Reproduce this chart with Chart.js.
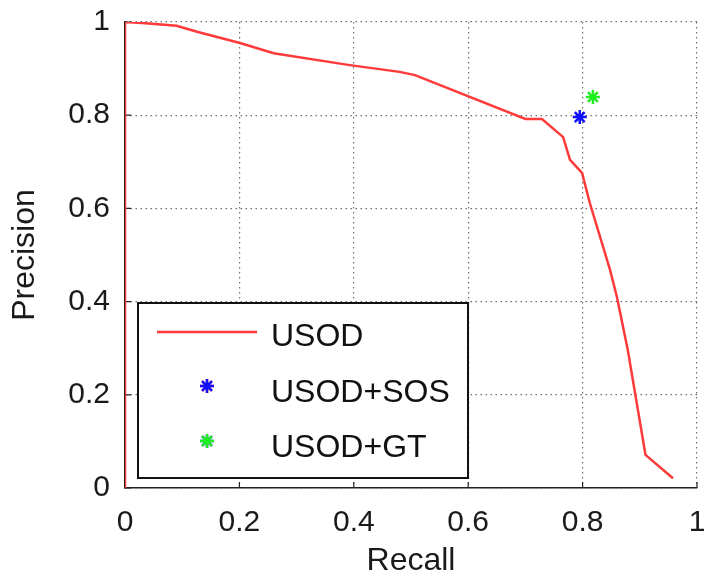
<!DOCTYPE html>
<html>
<head>
<meta charset="utf-8">
<script src="https://cdn.jsdelivr.net/npm/chart.js@4/dist/chart.umd.min.js"></script>
<style>
  html, body { margin: 0; padding: 0; background: #fff; }
  #wrap { width: 708px; height: 577px; }
</style>
</head>
<body>
<div id="wrap"><canvas id="prChart"></canvas></div>
<script>
// PR curve
const recall = [0, 0, 0.03, 0.09, 0.126, 0.201, 0.26, 0.39, 0.48, 0.507, 0.70, 0.729, 0.766, 0.778, 0.799, 0.813, 0.848, 0.86, 0.879, 0.91, 0.958];
const precision = [0, 1, 0.998, 0.992, 0.979, 0.955, 0.933, 0.908, 0.893, 0.886, 0.792, 0.792, 0.753, 0.704, 0.676, 0.61, 0.468, 0.41, 0.296, 0.071, 0.021];
const sosRecall = [0.795];
const sosPrecision = [0.796];
const gtRecall = [0.818];
const gtPrecision = [0.839];
const seriesNames = ["USOD", "USOD+SOS", "USOD+GT"];
const xTicks = [0, 0.2, 0.4, 0.6, 0.8, 1];
const yTicks = [0, 0.2, 0.4, 0.6, 0.8, 1];

const FONT = "'Liberation Sans', Arial, sans-serif";

function toPoints(xs, ys) {
  return xs.map((x, i) => ({ x, y: ys[i] }));
}

// MATLAB style inward tick marks
const innerTicks = {
  id: "innerTicks",
  beforeDatasetsDraw(chart) {
    const { ctx, chartArea, scales } = chart;
    ctx.save();
    ctx.strokeStyle = "#222";
    ctx.lineWidth = 1.2;
    ctx.beginPath();
    xTicks.forEach((v) => {
      const px = scales.x.getPixelForValue(v);
      ctx.moveTo(px, chartArea.bottom);
      ctx.lineTo(px, chartArea.bottom - 6);
    });
    yTicks.forEach((v) => {
      const py = scales.y.getPixelForValue(v);
      ctx.moveTo(chartArea.left, py);
      ctx.lineTo(chartArea.left + 6, py);
    });
    ctx.stroke();
    ctx.restore();
  }
};

// boxed legend inside the lower left corner
const boxLegend = {
  id: "boxLegend",
  afterDraw(chart) {
    const { ctx, chartArea } = chart;
    const left = chartArea.left + 13;
    const bottom = chartArea.bottom - 10;
    const w = 330, h = 175;
    const top = bottom - h;
    ctx.save();
    ctx.fillStyle = "#fff";
    ctx.fillRect(left, top, w, h);
    ctx.strokeStyle = "#111";
    ctx.lineWidth = 2;
    ctx.strokeRect(left, top, w, h);

    const rows = [top + 32, top + 88, top + 143];
    ctx.font = "32px " + FONT;
    ctx.fillStyle = "#111";
    ctx.textBaseline = "middle";
    chart.data.datasets.forEach((ds, i) => {
      const y = rows[i];
      if (ds.showLine !== false) {
        ctx.strokeStyle = ds.borderColor;
        ctx.lineWidth = ds.borderWidth;
        ctx.beginPath();
        ctx.moveTo(left + 19, y - 3);
        ctx.lineTo(left + 119, y - 3);
        ctx.stroke();
      } else {
        Chart.helpers.drawPoint(ctx, {
          pointStyle: ds.pointStyle,
          radius: ds.pointRadius,
          borderWidth: ds.borderWidth,
          rotation: 0
        }, left + 69, y - 5);
        ctx.strokeStyle = ds.borderColor;
        ctx.lineWidth = ds.borderWidth;
        ctx.stroke();
      }
      ctx.fillStyle = "#111";
      ctx.fillText(ds.label, left + 133, y + 2);
    });
    ctx.restore();
  }
};

const context = document.getElementById("prChart").getContext("2d");
new Chart(context, {
  type: "scatter",
  data: {
    datasets: [
      {
        label: seriesNames[0],
        data: toPoints(recall, precision),
        showLine: true,
        borderColor: "#ff3a3a",
        backgroundColor: "#ff3a3a",
        borderWidth: 2.5,
        pointRadius: 0,
        tension: 0
      },
      {
        label: seriesNames[1],
        data: toPoints(sosRecall, sosPrecision),
        showLine: false,
        pointStyle: "star",
        pointRadius: 7,
        borderWidth: 2.5,
        borderColor: "#1010ff",
        backgroundColor: "#1010ff"
      },
      {
        label: seriesNames[2],
        data: toPoints(gtRecall, gtPrecision),
        showLine: false,
        pointStyle: "star",
        pointRadius: 7,
        borderWidth: 2.5,
        borderColor: "#20ee20",
        backgroundColor: "#20ee20"
      }
    ]
  },
  options: {
    responsive: true,
    maintainAspectRatio: false,
    animation: false,
    layout: { padding: { top: 22, right: 11, left: 0, bottom: 0 } },
    plugins: { legend: { display: false }, tooltip: { enabled: false } },
    scales: {
      x: {
        type: "linear",
        min: 0,
        max: 1,
        afterBuildTicks: (scale) => { scale.ticks = xTicks.map((v) => ({ value: v })); },
        afterFit: (scale) => {
          scale.height = 89;
          scale.paddingLeft = 0;
          scale.paddingRight = 0;
        },
        grid: { color: "#707070", lineWidth: 1.2, drawTicks: false },
        border: { display: true, color: "#222", width: 1.5, dash: [1.5, 3.5] },
        ticks: {
          color: "#1a1a1a",
          padding: 17,
          maxRotation: 0,
          font: { size: 30, family: FONT },
          callback: (value) => String(value)
        },
        title: {
          display: true,
          text: "Recall",
          color: "#1a1a1a",
          font: { size: 32, family: FONT, lineHeight: 1 },
          padding: { top: 0, bottom: 0 }
        }
      },
      y: {
        type: "linear",
        min: 0,
        max: 1,
        afterBuildTicks: (scale) => { scale.ticks = yTicks.map((v) => ({ value: v })); },
        afterFit: (scale) => {
          scale.width = 125;
          scale.paddingTop = 0;
          scale.paddingBottom = 0;
        },
        grid: { color: "#707070", lineWidth: 1.2, drawTicks: false },
        border: { display: true, color: "#222", width: 1.5, dash: [1.5, 3.5] },
        ticks: {
          color: "#1a1a1a",
          padding: 15,
          font: { size: 30, family: FONT },
          callback: (value) => String(value)
        },
        title: {
          display: true,
          text: "Precision",
          color: "#1a1a1a",
          font: { size: 32, family: FONT, lineHeight: 1 },
          padding: { top: 9, bottom: 0 }
        }
      }
    }
  },
  plugins: [innerTicks, boxLegend]
});
</script>
</body>
</html>
